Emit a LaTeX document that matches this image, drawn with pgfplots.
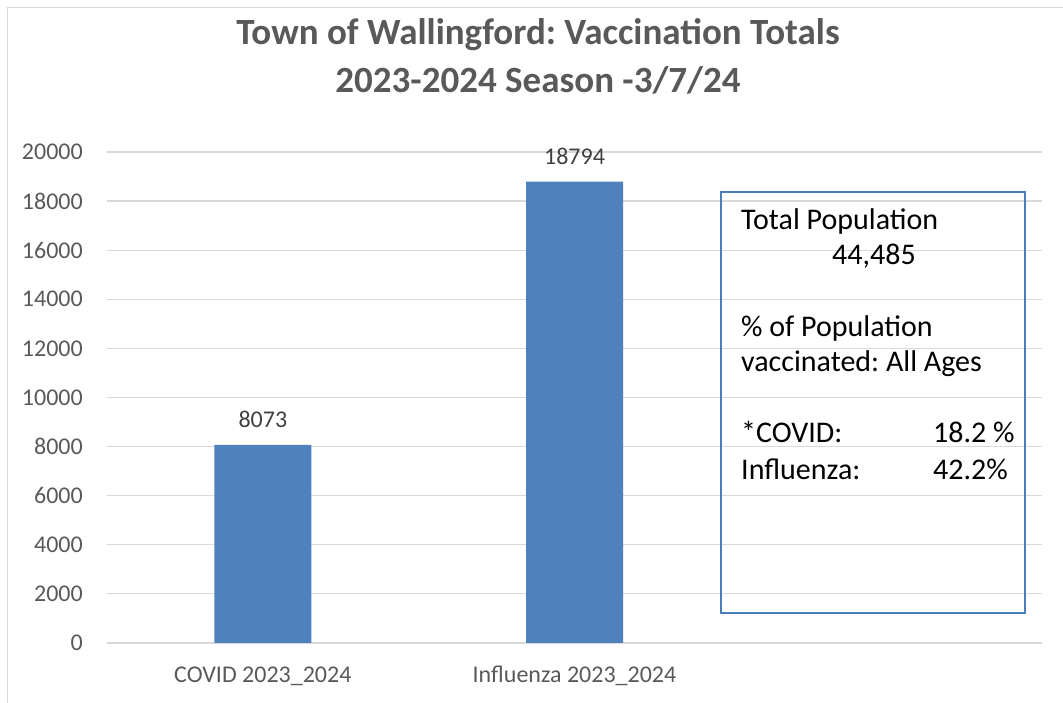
\documentclass[border=0pt]{standalone}
\usepackage{pgfplots}
\pgfplotsset{compat=1.18}
\usepackage{fontspec}
\setmainfont{Carlito}
\frenchspacing
\definecolor{barblue}{HTML}{4F81BD}
\definecolor{boxblue}{HTML}{4A7EBB}
\definecolor{gridgray}{HTML}{D9D9D9}
\definecolor{txtgray}{HTML}{595959}
\definecolor{lblgray}{HTML}{404040}
\begin{document}
\begin{tikzpicture}[x=1pt,y=1pt]
\useasboundingbox (0,0) rectangle (1063,703);
% chart area border
\draw[gridgray, line width=1.5pt] (7.5,-20) -- (7.5,695.5) -- (1080,695.5);
% title
\node[anchor=base, font=\fontsize{37}{44}\selectfont\bfseries, text=txtgray] at (538,658) {Town of Wallingford: Vaccination Totals};
\node[anchor=base, font=\fontsize{37}{44}\selectfont\bfseries, text=txtgray] at (538,610) {2023-2024 Season -3/7/24};
\begin{axis}[
    at={(107pt,60pt)}, anchor=south west,
    scale only axis, width=935pt, height=491pt,
    xmin=-0.5, xmax=2.5, ymin=0, ymax=20000,
    ybar, bar width=97pt,
    axis line style={draw=none},
    major tick length=0pt,
    scaled y ticks=false,
    ytick={0,2000,...,20000},
    yticklabels={0,2000,4000,6000,8000,10000,12000,14000,16000,18000,20000},
    xtick={0,1,2},
    xticklabels={COVID 2023\_2024, Influenza 2023\_2024, {}},
    ymajorgrids, grid style={gridgray, line width=1.2pt},
    tick label style={font=\fontsize{24}{28}\selectfont, text=txtgray, inner sep=0pt},
    yticklabel style={anchor=east, xshift=-24pt},
    xticklabel style={anchor=base, yshift=-40pt},
    nodes near coords={\pgfmathprintnumber[1000 sep={},assume math mode=true]{\pgfplotspointmeta}},
    every node near coord/.append style={anchor=center, yshift=25pt, inner sep=0pt,
        font=\fontsize{24}{28}\selectfont, text=lblgray},
]
\addplot[fill=barblue, draw=none] coordinates {(0,8073) (1,18794)};
\end{axis}
% text box
\draw[boxblue, line width=1.5pt] (721,511) rectangle (1025,90);
\begin{scope}[every node/.style={anchor=base west, inner sep=0pt, font=\fontsize{30}{36}\selectfont, text=black}]
\node at (741,473) {Total Population};
\node at (832,438) {44,485};
\node at (741,366) {\% of Population};
\node at (741,331) {vaccinated: All Ages};
\node at (741,260) {*COVID:};
\node at (933,260) {18.2 \%};
\node at (741,223) {Influenza:};
\node at (933,223) {42.2\%};
\end{scope}
\end{tikzpicture}
\end{document}
